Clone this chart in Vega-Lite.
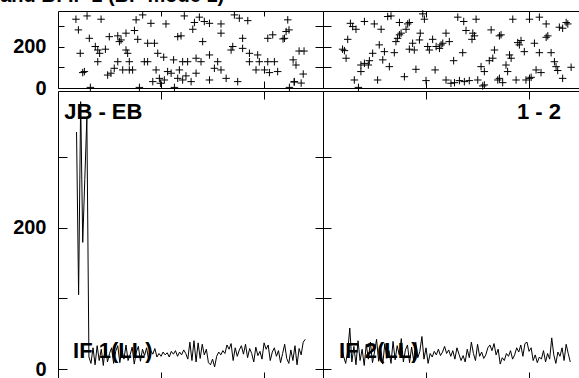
{
  "$schema": "https://vega.github.io/schema/vega-lite/v6.json",
  "background": "white",
  "padding": {"left": 0, "top": -15, "right": 0, "bottom": 0},
  "title": {"text": "and B: IF 1 (BP mode 1)", "anchor": "start", "dx": -12, "offset": -14, "baseline": "alphabetic", "fontSize": 20, "font": "Liberation Sans", "fontWeight": "bold", "color": "black"},
  "config": {
    "font": "Liberation Sans",
    "view": {"stroke": "black", "strokeWidth": 1},
    "axis": {"domain": false, "grid": false, "tickColor": "black", "tickWidth": 1, "labelColor": "black", "labelFont": "Liberation Sans", "labelFontWeight": "bold", "labelFontSize": 20}
  },
  "datasets": {
    "phase": [
      {"IF": 1, "ch": 8.7, "ph": 335}, {"IF": 1, "ch": 14.1, "ph": 351}, {"IF": 1, "ch": 20.9, "ph": 335}, {"IF": 1, "ch": 9.9, "ph": 283},
      {"IF": 1, "ch": 15.2, "ph": 242}, {"IF": 1, "ch": 10.8, "ph": 169}, {"IF": 1, "ch": 18.1, "ph": 202}, {"IF": 1, "ch": 19.3, "ph": 185},
      {"IF": 1, "ch": 20.2, "ph": 169}, {"IF": 1, "ch": 23.0, "ph": 189}, {"IF": 1, "ch": 19.3, "ph": 128}, {"IF": 1, "ch": 12.0, "ph": 75},
      {"IF": 1, "ch": 12.8, "ph": 80}, {"IF": 1, "ch": 15.7, "ph": 3}, {"IF": 1, "ch": 24.9, "ph": 250}, {"IF": 1, "ch": 29.0, "ph": 254},
      {"IF": 1, "ch": 29.8, "ph": 226}, {"IF": 1, "ch": 33.0, "ph": 267}, {"IF": 1, "ch": 30.6, "ph": 234}, {"IF": 1, "ch": 37.1, "ph": 280},
      {"IF": 1, "ch": 37.9, "ph": 332}, {"IF": 1, "ch": 41.1, "ph": 356}, {"IF": 1, "ch": 38.7, "ph": 237}, {"IF": 1, "ch": 43.5, "ph": 218},
      {"IF": 1, "ch": 46.8, "ph": 218}, {"IF": 1, "ch": 33.0, "ph": 185}, {"IF": 1, "ch": 33.8, "ph": 169}, {"IF": 1, "ch": 29.0, "ph": 128},
      {"IF": 1, "ch": 27.3, "ph": 96}, {"IF": 1, "ch": 25.7, "ph": 72}, {"IF": 1, "ch": 24.1, "ph": 63}, {"IF": 1, "ch": 31.4, "ph": 88},
      {"IF": 1, "ch": 34.6, "ph": 88}, {"IF": 1, "ch": 36.2, "ph": 88}, {"IF": 1, "ch": 34.6, "ph": 128}, {"IF": 1, "ch": 41.9, "ph": 128},
      {"IF": 1, "ch": 43.5, "ph": 128}, {"IF": 1, "ch": 45.1, "ph": 315}, {"IF": 1, "ch": 52.4, "ph": 312}, {"IF": 1, "ch": 61.3, "ph": 351},
      {"IF": 1, "ch": 66.2, "ph": 319}, {"IF": 1, "ch": 68.6, "ph": 345}, {"IF": 1, "ch": 65.4, "ph": 286}, {"IF": 1, "ch": 71.0, "ph": 324},
      {"IF": 1, "ch": 73.5, "ph": 315}, {"IF": 1, "ch": 79.1, "ph": 312}, {"IF": 1, "ch": 58.1, "ph": 250}, {"IF": 1, "ch": 59.7, "ph": 254},
      {"IF": 1, "ch": 70.2, "ph": 226}, {"IF": 1, "ch": 79.1, "ph": 267}, {"IF": 1, "ch": 85.6, "ph": 356}, {"IF": 1, "ch": 88.0, "ph": 340},
      {"IF": 1, "ch": 92.1, "ph": 328}, {"IF": 1, "ch": 89.6, "ph": 242}, {"IF": 1, "ch": 84.8, "ph": 202}, {"IF": 1, "ch": 84.0, "ph": 185},
      {"IF": 1, "ch": 89.6, "ph": 193}, {"IF": 1, "ch": 92.9, "ph": 169}, {"IF": 1, "ch": 96.9, "ph": 161}, {"IF": 1, "ch": 92.9, "ph": 128},
      {"IF": 1, "ch": 97.7, "ph": 128}, {"IF": 1, "ch": 101.8, "ph": 128}, {"IF": 1, "ch": 105.0, "ph": 128}, {"IF": 1, "ch": 100.2, "ph": 88},
      {"IF": 1, "ch": 102.6, "ph": 75}, {"IF": 1, "ch": 106.6, "ph": 80}, {"IF": 1, "ch": 96.1, "ph": 88}, {"IF": 1, "ch": 101.8, "ph": 242},
      {"IF": 1, "ch": 104.2, "ph": 259}, {"IF": 1, "ch": 109.9, "ph": 242}, {"IF": 1, "ch": 110.7, "ph": 275}, {"IF": 1, "ch": 111.5, "ph": 332},
      {"IF": 1, "ch": 73.5, "ph": 161}, {"IF": 1, "ch": 77.5, "ph": 128}, {"IF": 1, "ch": 69.4, "ph": 128}, {"IF": 1, "ch": 67.0, "ph": 145},
      {"IF": 1, "ch": 62.9, "ph": 128}, {"IF": 1, "ch": 60.5, "ph": 128}, {"IF": 1, "ch": 56.1, "ph": 137}, {"IF": 1, "ch": 48.4, "ph": 169},
      {"IF": 1, "ch": 51.3, "ph": 150}, {"IF": 1, "ch": 47.6, "ph": 88}, {"IF": 1, "ch": 49.2, "ph": 47}, {"IF": 1, "ch": 51.6, "ph": 39},
      {"IF": 1, "ch": 49.7, "ph": 23}, {"IF": 1, "ch": 53.2, "ph": 80}, {"IF": 1, "ch": 54.9, "ph": 72}, {"IF": 1, "ch": 58.9, "ph": 88},
      {"IF": 1, "ch": 58.1, "ph": 47}, {"IF": 1, "ch": 60.5, "ph": 39}, {"IF": 1, "ch": 62.1, "ph": 59}, {"IF": 1, "ch": 64.6, "ph": 31},
      {"IF": 1, "ch": 67.0, "ph": 72}, {"IF": 1, "ch": 73.5, "ph": 39}, {"IF": 1, "ch": 75.9, "ph": 96}, {"IF": 1, "ch": 79.1, "ph": 88},
      {"IF": 1, "ch": 81.6, "ph": 47}, {"IF": 1, "ch": 87.2, "ph": 31}, {"IF": 1, "ch": 46.0, "ph": 31}, {"IF": 1, "ch": 39.5, "ph": 3},
      {"IF": 1, "ch": 56.5, "ph": 3}, {"IF": 1, "ch": 112.3, "ph": 3}, {"IF": 1, "ch": 114.7, "ph": 31}, {"IF": 1, "ch": 112.1, "ph": 283},
      {"IF": 1, "ch": 109.2, "ph": 239}, {"IF": 1, "ch": 117.0, "ph": 180}, {"IF": 1, "ch": 119.4, "ph": 180}, {"IF": 1, "ch": 114.1, "ph": 137},
      {"IF": 1, "ch": 115.5, "ph": 112}, {"IF": 1, "ch": 119.0, "ph": 68}, {"IF": 1, "ch": 114.6, "ph": 29}, {"IF": 1, "ch": 118.0, "ph": 24},
      {"IF": 2, "ch": 13.3, "ph": 315}, {"IF": 2, "ch": 14.4, "ph": 299}, {"IF": 2, "ch": 16.0, "ph": 286}, {"IF": 2, "ch": 20.1, "ph": 324},
      {"IF": 2, "ch": 24.9, "ph": 312}, {"IF": 2, "ch": 28.2, "ph": 286}, {"IF": 2, "ch": 31.4, "ph": 348}, {"IF": 2, "ch": 33.0, "ph": 351},
      {"IF": 2, "ch": 37.1, "ph": 319}, {"IF": 2, "ch": 41.1, "ph": 312}, {"IF": 2, "ch": 40.3, "ph": 286}, {"IF": 2, "ch": 41.9, "ph": 319},
      {"IF": 2, "ch": 48.4, "ph": 361}, {"IF": 2, "ch": 49.2, "ph": 335}, {"IF": 2, "ch": 65.4, "ph": 345}, {"IF": 2, "ch": 68.3, "ph": 324},
      {"IF": 2, "ch": 74.3, "ph": 335}, {"IF": 2, "ch": 69.4, "ph": 280}, {"IF": 2, "ch": 72.7, "ph": 267}, {"IF": 2, "ch": 73.5, "ph": 254},
      {"IF": 2, "ch": 81.6, "ph": 283}, {"IF": 2, "ch": 86.4, "ph": 259}, {"IF": 2, "ch": 92.1, "ph": 335}, {"IF": 2, "ch": 100.2, "ph": 335},
      {"IF": 2, "ch": 105.0, "ph": 345}, {"IF": 2, "ch": 108.3, "ph": 312}, {"IF": 2, "ch": 114.7, "ph": 296}, {"IF": 2, "ch": 116.3, "ph": 291},
      {"IF": 2, "ch": 118.0, "ph": 319}, {"IF": 2, "ch": 118.8, "ph": 312}, {"IF": 2, "ch": 12.0, "ph": 237}, {"IF": 2, "ch": 9.5, "ph": 189},
      {"IF": 2, "ch": 10.4, "ph": 182}, {"IF": 2, "ch": 11.2, "ph": 145}, {"IF": 2, "ch": 18.4, "ph": 112}, {"IF": 2, "ch": 20.1, "ph": 120},
      {"IF": 2, "ch": 22.5, "ph": 133}, {"IF": 2, "ch": 22.0, "ph": 112}, {"IF": 2, "ch": 18.4, "ph": 80}, {"IF": 2, "ch": 15.2, "ph": 39},
      {"IF": 2, "ch": 17.2, "ph": 3}, {"IF": 2, "ch": 24.1, "ph": 169}, {"IF": 2, "ch": 27.3, "ph": 210}, {"IF": 2, "ch": 29.8, "ph": 177},
      {"IF": 2, "ch": 29.0, "ph": 137}, {"IF": 2, "ch": 32.2, "ph": 104}, {"IF": 2, "ch": 34.6, "ph": 172}, {"IF": 2, "ch": 35.4, "ph": 226},
      {"IF": 2, "ch": 36.2, "ph": 242}, {"IF": 2, "ch": 37.1, "ph": 259}, {"IF": 2, "ch": 37.9, "ph": 267}, {"IF": 2, "ch": 41.9, "ph": 189},
      {"IF": 2, "ch": 43.5, "ph": 218}, {"IF": 2, "ch": 44.3, "ph": 185}, {"IF": 2, "ch": 46.8, "ph": 234}, {"IF": 2, "ch": 47.2, "ph": 267},
      {"IF": 2, "ch": 50.8, "ph": 202}, {"IF": 2, "ch": 51.6, "ph": 185}, {"IF": 2, "ch": 53.2, "ph": 237}, {"IF": 2, "ch": 54.9, "ph": 202},
      {"IF": 2, "ch": 56.5, "ph": 193}, {"IF": 2, "ch": 57.3, "ph": 210}, {"IF": 2, "ch": 59.7, "ph": 267}, {"IF": 2, "ch": 61.3, "ph": 226},
      {"IF": 2, "ch": 58.1, "ph": 218}, {"IF": 2, "ch": 26.5, "ph": 39}, {"IF": 2, "ch": 39.5, "ph": 55}, {"IF": 2, "ch": 45.1, "ph": 91},
      {"IF": 2, "ch": 54.4, "ph": 88}, {"IF": 2, "ch": 50.0, "ph": 36}, {"IF": 2, "ch": 63.4, "ph": 133}, {"IF": 2, "ch": 67.8, "ph": 172},
      {"IF": 2, "ch": 59.7, "ph": 39}, {"IF": 2, "ch": 62.1, "ph": 23}, {"IF": 2, "ch": 63.8, "ph": 26}, {"IF": 2, "ch": 66.2, "ph": 36},
      {"IF": 2, "ch": 68.6, "ph": 31}, {"IF": 2, "ch": 71.0, "ph": 36}, {"IF": 2, "ch": 75.1, "ph": 39}, {"IF": 2, "ch": 77.5, "ph": 10},
      {"IF": 2, "ch": 78.3, "ph": 15}, {"IF": 2, "ch": 84.8, "ph": 39}, {"IF": 2, "ch": 85.6, "ph": 47}, {"IF": 2, "ch": 87.2, "ph": 26},
      {"IF": 2, "ch": 76.7, "ph": 104}, {"IF": 2, "ch": 78.3, "ph": 80}, {"IF": 2, "ch": 80.7, "ph": 133}, {"IF": 2, "ch": 82.4, "ph": 145},
      {"IF": 2, "ch": 83.2, "ph": 185}, {"IF": 2, "ch": 88.8, "ph": 112}, {"IF": 2, "ch": 89.6, "ph": 80}, {"IF": 2, "ch": 90.5, "ph": 161},
      {"IF": 2, "ch": 91.3, "ph": 145}, {"IF": 2, "ch": 93.7, "ph": 39}, {"IF": 2, "ch": 98.5, "ph": 39}, {"IF": 2, "ch": 100.2, "ph": 47},
      {"IF": 2, "ch": 101.0, "ph": 52}, {"IF": 2, "ch": 103.4, "ph": 88}, {"IF": 2, "ch": 105.8, "ph": 75}, {"IF": 2, "ch": 95.3, "ph": 210},
      {"IF": 2, "ch": 94.5, "ph": 221}, {"IF": 2, "ch": 96.1, "ph": 231}, {"IF": 2, "ch": 97.7, "ph": 177}, {"IF": 2, "ch": 102.6, "ph": 218},
      {"IF": 2, "ch": 105.0, "ph": 172}, {"IF": 2, "ch": 108.3, "ph": 247}, {"IF": 2, "ch": 109.1, "ph": 254}, {"IF": 2, "ch": 110.7, "ph": 172},
      {"IF": 2, "ch": 112.3, "ph": 128}, {"IF": 2, "ch": 113.1, "ph": 104}, {"IF": 2, "ch": 113.9, "ph": 85}, {"IF": 2, "ch": 116.3, "ph": 47},
      {"IF": 2, "ch": 120.4, "ph": 101}, {"IF": 2, "ch": 85.6, "ph": 254}, {"IF": 2, "ch": 72.3, "ph": 237}
    ],
    "amp": [
      {"IF": 1, "ch": 9, "amp": 335}, {"IF": 1, "ch": 10, "amp": 105}, {"IF": 1, "ch": 11, "amp": 378}, {"IF": 1, "ch": 12, "amp": 179},
      {"IF": 1, "ch": 13, "amp": 268}, {"IF": 1, "ch": 14, "amp": 355}, {"IF": 1, "ch": 15, "amp": 17}, {"IF": 1, "ch": 16, "amp": 8},
      {"IF": 1, "ch": 17, "amp": 30}, {"IF": 1, "ch": 18, "amp": 6}, {"IF": 1, "ch": 19, "amp": 33}, {"IF": 1, "ch": 20, "amp": 12},
      {"IF": 1, "ch": 21, "amp": 28}, {"IF": 1, "ch": 22, "amp": 5}, {"IF": 1, "ch": 23, "amp": 35}, {"IF": 1, "ch": 24, "amp": 10},
      {"IF": 1, "ch": 25, "amp": 22}, {"IF": 1, "ch": 26, "amp": 30}, {"IF": 1, "ch": 27, "amp": 8}, {"IF": 1, "ch": 28, "amp": 25},
      {"IF": 1, "ch": 29, "amp": 33}, {"IF": 1, "ch": 30, "amp": 9}, {"IF": 1, "ch": 31, "amp": 27}, {"IF": 1, "ch": 32, "amp": 14},
      {"IF": 1, "ch": 33, "amp": 34}, {"IF": 1, "ch": 34, "amp": 12}, {"IF": 1, "ch": 35, "amp": 20}, {"IF": 1, "ch": 36, "amp": 31},
      {"IF": 1, "ch": 37, "amp": 7}, {"IF": 1, "ch": 38, "amp": 24}, {"IF": 1, "ch": 39, "amp": 32}, {"IF": 1, "ch": 40, "amp": 11},
      {"IF": 1, "ch": 41, "amp": 28}, {"IF": 1, "ch": 42, "amp": 19}, {"IF": 1, "ch": 43, "amp": 30}, {"IF": 1, "ch": 44, "amp": 13},
      {"IF": 1, "ch": 45, "amp": 26}, {"IF": 1, "ch": 46, "amp": 21}, {"IF": 1, "ch": 47, "amp": 29}, {"IF": 1, "ch": 48, "amp": 17},
      {"IF": 1, "ch": 49, "amp": 22}, {"IF": 1, "ch": 50, "amp": 18}, {"IF": 1, "ch": 51, "amp": 24}, {"IF": 1, "ch": 52, "amp": 20},
      {"IF": 1, "ch": 53, "amp": 23}, {"IF": 1, "ch": 54, "amp": 17}, {"IF": 1, "ch": 55, "amp": 25}, {"IF": 1, "ch": 56, "amp": 21},
      {"IF": 1, "ch": 57, "amp": 26}, {"IF": 1, "ch": 58, "amp": 18}, {"IF": 1, "ch": 59, "amp": 24}, {"IF": 1, "ch": 60, "amp": 20},
      {"IF": 1, "ch": 61, "amp": 27}, {"IF": 1, "ch": 62, "amp": 22}, {"IF": 1, "ch": 63, "amp": 14}, {"IF": 1, "ch": 64, "amp": 38},
      {"IF": 1, "ch": 65, "amp": 12}, {"IF": 1, "ch": 66, "amp": 40}, {"IF": 1, "ch": 67, "amp": 10}, {"IF": 1, "ch": 68, "amp": 37},
      {"IF": 1, "ch": 69, "amp": 15}, {"IF": 1, "ch": 70, "amp": 35}, {"IF": 1, "ch": 71, "amp": 20}, {"IF": 1, "ch": 72, "amp": 28},
      {"IF": 1, "ch": 73, "amp": 9}, {"IF": 1, "ch": 74, "amp": 6}, {"IF": 1, "ch": 75, "amp": 14}, {"IF": 1, "ch": 76, "amp": 3},
      {"IF": 1, "ch": 77, "amp": 18}, {"IF": 1, "ch": 78, "amp": 24}, {"IF": 1, "ch": 79, "amp": 20}, {"IF": 1, "ch": 80, "amp": 26},
      {"IF": 1, "ch": 81, "amp": 22}, {"IF": 1, "ch": 82, "amp": 34}, {"IF": 1, "ch": 83, "amp": 28}, {"IF": 1, "ch": 84, "amp": 36},
      {"IF": 1, "ch": 85, "amp": 12}, {"IF": 1, "ch": 86, "amp": 30}, {"IF": 1, "ch": 87, "amp": 18}, {"IF": 1, "ch": 88, "amp": 27},
      {"IF": 1, "ch": 89, "amp": 33}, {"IF": 1, "ch": 90, "amp": 21}, {"IF": 1, "ch": 91, "amp": 35}, {"IF": 1, "ch": 92, "amp": 16},
      {"IF": 1, "ch": 93, "amp": 29}, {"IF": 1, "ch": 94, "amp": 22}, {"IF": 1, "ch": 95, "amp": 10}, {"IF": 1, "ch": 96, "amp": 31},
      {"IF": 1, "ch": 97, "amp": 19}, {"IF": 1, "ch": 98, "amp": 25}, {"IF": 1, "ch": 99, "amp": 14}, {"IF": 1, "ch": 100, "amp": 37},
      {"IF": 1, "ch": 101, "amp": 28}, {"IF": 1, "ch": 102, "amp": 34}, {"IF": 1, "ch": 103, "amp": 12}, {"IF": 1, "ch": 104, "amp": 24},
      {"IF": 1, "ch": 105, "amp": 30}, {"IF": 1, "ch": 106, "amp": 18}, {"IF": 1, "ch": 107, "amp": 26}, {"IF": 1, "ch": 108, "amp": 9},
      {"IF": 1, "ch": 109, "amp": 22}, {"IF": 1, "ch": 110, "amp": 35}, {"IF": 1, "ch": 111, "amp": 15}, {"IF": 1, "ch": 112, "amp": 8},
      {"IF": 1, "ch": 113, "amp": 27}, {"IF": 1, "ch": 114, "amp": 12}, {"IF": 1, "ch": 115, "amp": 33}, {"IF": 1, "ch": 116, "amp": 6},
      {"IF": 1, "ch": 117, "amp": 29}, {"IF": 1, "ch": 118, "amp": 20}, {"IF": 1, "ch": 119, "amp": 38}, {"IF": 1, "ch": 120, "amp": 42},
      {"IF": 2, "ch": 9, "amp": 30}, {"IF": 2, "ch": 10, "amp": 18}, {"IF": 2, "ch": 11, "amp": 8}, {"IF": 2, "ch": 12, "amp": 25},
      {"IF": 2, "ch": 13, "amp": 58}, {"IF": 2, "ch": 14, "amp": 10}, {"IF": 2, "ch": 15, "amp": 32}, {"IF": 2, "ch": 16, "amp": 6},
      {"IF": 2, "ch": 17, "amp": 40}, {"IF": 2, "ch": 18, "amp": 12}, {"IF": 2, "ch": 19, "amp": 28}, {"IF": 2, "ch": 20, "amp": 5},
      {"IF": 2, "ch": 21, "amp": 35}, {"IF": 2, "ch": 22, "amp": 14}, {"IF": 2, "ch": 23, "amp": 38}, {"IF": 2, "ch": 24, "amp": 9},
      {"IF": 2, "ch": 25, "amp": 24}, {"IF": 2, "ch": 26, "amp": 42}, {"IF": 2, "ch": 27, "amp": 11}, {"IF": 2, "ch": 28, "amp": 30},
      {"IF": 2, "ch": 29, "amp": 7}, {"IF": 2, "ch": 30, "amp": 36}, {"IF": 2, "ch": 31, "amp": 15}, {"IF": 2, "ch": 32, "amp": 26},
      {"IF": 2, "ch": 33, "amp": 8}, {"IF": 2, "ch": 34, "amp": 39}, {"IF": 2, "ch": 35, "amp": 13}, {"IF": 2, "ch": 36, "amp": 33},
      {"IF": 2, "ch": 37, "amp": 20}, {"IF": 2, "ch": 38, "amp": 43}, {"IF": 2, "ch": 39, "amp": 10}, {"IF": 2, "ch": 40, "amp": 27},
      {"IF": 2, "ch": 41, "amp": 34}, {"IF": 2, "ch": 42, "amp": 9}, {"IF": 2, "ch": 43, "amp": 31}, {"IF": 2, "ch": 44, "amp": 12},
      {"IF": 2, "ch": 45, "amp": 38}, {"IF": 2, "ch": 46, "amp": 16}, {"IF": 2, "ch": 47, "amp": 25}, {"IF": 2, "ch": 48, "amp": 46},
      {"IF": 2, "ch": 49, "amp": 14}, {"IF": 2, "ch": 50, "amp": 30}, {"IF": 2, "ch": 51, "amp": 8}, {"IF": 2, "ch": 52, "amp": 22},
      {"IF": 2, "ch": 53, "amp": 17}, {"IF": 2, "ch": 54, "amp": 25}, {"IF": 2, "ch": 55, "amp": 20}, {"IF": 2, "ch": 56, "amp": 28},
      {"IF": 2, "ch": 57, "amp": 19}, {"IF": 2, "ch": 58, "amp": 24}, {"IF": 2, "ch": 59, "amp": 32}, {"IF": 2, "ch": 60, "amp": 22},
      {"IF": 2, "ch": 61, "amp": 27}, {"IF": 2, "ch": 62, "amp": 18}, {"IF": 2, "ch": 63, "amp": 26}, {"IF": 2, "ch": 64, "amp": 14},
      {"IF": 2, "ch": 65, "amp": 30}, {"IF": 2, "ch": 66, "amp": 21}, {"IF": 2, "ch": 67, "amp": 12}, {"IF": 2, "ch": 68, "amp": 19},
      {"IF": 2, "ch": 69, "amp": 10}, {"IF": 2, "ch": 70, "amp": 28}, {"IF": 2, "ch": 71, "amp": 16}, {"IF": 2, "ch": 72, "amp": 38},
      {"IF": 2, "ch": 73, "amp": 22}, {"IF": 2, "ch": 74, "amp": 12}, {"IF": 2, "ch": 75, "amp": 35}, {"IF": 2, "ch": 76, "amp": 18},
      {"IF": 2, "ch": 77, "amp": 24}, {"IF": 2, "ch": 78, "amp": 15}, {"IF": 2, "ch": 79, "amp": 20}, {"IF": 2, "ch": 80, "amp": 30},
      {"IF": 2, "ch": 81, "amp": 34}, {"IF": 2, "ch": 82, "amp": 26}, {"IF": 2, "ch": 83, "amp": 36}, {"IF": 2, "ch": 84, "amp": 20},
      {"IF": 2, "ch": 85, "amp": 28}, {"IF": 2, "ch": 86, "amp": 7}, {"IF": 2, "ch": 87, "amp": 16}, {"IF": 2, "ch": 88, "amp": 12},
      {"IF": 2, "ch": 89, "amp": 22}, {"IF": 2, "ch": 90, "amp": 18}, {"IF": 2, "ch": 91, "amp": 26}, {"IF": 2, "ch": 92, "amp": 14},
      {"IF": 2, "ch": 93, "amp": 20}, {"IF": 2, "ch": 94, "amp": 30}, {"IF": 2, "ch": 95, "amp": 24}, {"IF": 2, "ch": 96, "amp": 34},
      {"IF": 2, "ch": 97, "amp": 18}, {"IF": 2, "ch": 98, "amp": 36}, {"IF": 2, "ch": 99, "amp": 38}, {"IF": 2, "ch": 100, "amp": 25},
      {"IF": 2, "ch": 101, "amp": 30}, {"IF": 2, "ch": 102, "amp": 12}, {"IF": 2, "ch": 103, "amp": 20}, {"IF": 2, "ch": 104, "amp": 9},
      {"IF": 2, "ch": 105, "amp": 17}, {"IF": 2, "ch": 106, "amp": 14}, {"IF": 2, "ch": 107, "amp": 26}, {"IF": 2, "ch": 108, "amp": 10},
      {"IF": 2, "ch": 109, "amp": 22}, {"IF": 2, "ch": 110, "amp": 14}, {"IF": 2, "ch": 111, "amp": 44}, {"IF": 2, "ch": 112, "amp": 20},
      {"IF": 2, "ch": 113, "amp": 8}, {"IF": 2, "ch": 114, "amp": 24}, {"IF": 2, "ch": 115, "amp": 18}, {"IF": 2, "ch": 116, "amp": 30},
      {"IF": 2, "ch": 117, "amp": 12}, {"IF": 2, "ch": 118, "amp": 35}, {"IF": 2, "ch": 119, "amp": 22}, {"IF": 2, "ch": 120, "amp": 10}
    ],
    "one": [{"k": 1}]
  },
  "columns": 2,
  "spacing": {"row": 3, "column": 0},
  "bounds": "flush",
  "align": "each",
  "concat": [
    {
      "width": 265, "height": 77,
      "resolve": {"axis": {"x": "independent", "y": "independent"}},
      "layer": [
        {
          "data": {"name": "phase"},
          "transform": [{"filter": "datum.IF == 1"}],
          "mark": {"type": "point", "shape": "M-1,0L1,0M0,-1L0,1", "size": 56, "filled": false, "stroke": "black", "strokeWidth": 1, "opacity": 1},
          "encoding": {
            "x": {"field": "ch", "type": "quantitative", "scale": {"domain": [0, 128.6], "nice": false, "zero": false}, "axis": {"orient": "bottom", "title": null, "values": [50, 100], "labels": false, "tickSize": -7}},
            "y": {"field": "ph", "type": "quantitative", "scale": {"domain": [0, 375], "nice": false, "zero": false}, "axis": {"orient": "left", "title": null, "values": [0, 100, 200, 300], "tickSize": -6, "labelPadding": 18, "labelExpr": "datum.value == 0 || datum.value == 200 ? datum.label : ''"}}
          }
        },
        {
          "data": {"name": "one"},
          "mark": {"type": "text", "text": ""},
          "encoding": {
            "x": {"datum": 0, "type": "quantitative", "scale": {"domain": [0, 128.6], "nice": false, "zero": false}, "axis": {"orient": "top", "title": null, "values": [50, 100], "labels": false, "tickSize": -5}},
            "y": {"datum": 0, "type": "quantitative", "scale": {"domain": [0, 375], "nice": false, "zero": false}, "axis": {"orient": "right", "title": null, "values": [0, 100, 200, 300], "labels": false, "tickSize": -8}}
          }
        }
      ]
    },
    {
      "width": 265, "height": 77,
      "resolve": {"axis": {"x": "independent", "y": "independent"}},
      "layer": [
        {
          "data": {"name": "phase"},
          "transform": [{"filter": "datum.IF == 2"}],
          "mark": {"type": "point", "shape": "M-1,0L1,0M0,-1L0,1", "size": 56, "filled": false, "stroke": "black", "strokeWidth": 1, "opacity": 1},
          "encoding": {
            "x": {"field": "ch", "type": "quantitative", "scale": {"domain": [0, 128.6], "nice": false, "zero": false}, "axis": {"orient": "bottom", "title": null, "values": [50, 100], "labels": false, "tickSize": -7}},
            "y": {"field": "ph", "type": "quantitative", "scale": {"domain": [0, 375], "nice": false, "zero": false}, "axis": {"orient": "left", "title": null, "values": [0, 100, 200, 300], "labels": false, "tickSize": -8}}
          }
        },
        {
          "data": {"name": "one"},
          "mark": {"type": "text", "text": ""},
          "encoding": {
            "x": {"datum": 0, "type": "quantitative", "scale": {"domain": [0, 128.6], "nice": false, "zero": false}, "axis": {"orient": "top", "title": null, "values": [50, 100], "labels": false, "tickSize": -6}},
            "y": {"datum": 0, "type": "quantitative", "scale": {"domain": [0, 375], "nice": false, "zero": false}, "axis": null}
          }
        }
      ]
    },
    {
      "width": 265, "height": 289,
      "resolve": {"axis": {"x": "independent", "y": "independent"}},
      "layer": [
        {
          "data": {"name": "amp"},
          "transform": [{"filter": "datum.IF == 1"}],
          "mark": {"type": "line", "stroke": "black", "strokeWidth": 1, "clip": true},
          "encoding": {
            "x": {"field": "ch", "type": "quantitative", "scale": {"domain": [0, 128.6], "nice": false, "zero": false}, "axis": {"orient": "bottom", "title": null, "values": [50, 100], "labels": false, "tickSize": -8}},
            "y": {"field": "amp", "type": "quantitative", "scale": {"domain": [-15.5, 393], "nice": false, "zero": false}, "axis": {"orient": "left", "title": null, "values": [0, 100, 200, 300], "tickSize": -9, "labelPadding": 21, "labelExpr": "datum.value == 0 || datum.value == 200 ? datum.label : ''"}}
          }
        },
        {
          "data": {"values": [{"label": "JB - EB"}]},
          "mark": {"type": "text", "align": "left", "baseline": "alphabetic", "fontSize": 22, "fontWeight": "bold", "font": "Liberation Sans", "color": "black"},
          "encoding": {
            "text": {"field": "label"},
            "x": {"datum": 3, "type": "quantitative", "scale": {"domain": [0, 128.6], "nice": false, "zero": false}, "axis": {"orient": "top", "title": null, "values": [50, 100], "labels": false, "tickSize": -8}},
            "y": {"datum": 354, "type": "quantitative", "scale": {"domain": [-15.5, 393], "nice": false, "zero": false}, "axis": {"orient": "right", "title": null, "values": [0, 100, 200, 300], "labels": false, "tickSize": -8}}
          }
        },
        {
          "data": {"values": [{"label": "IF 1(LL)"}]},
          "mark": {"type": "text", "align": "left", "baseline": "alphabetic", "fontSize": 22, "fontWeight": "bold", "font": "Liberation Sans", "color": "black"},
          "encoding": {
            "text": {"field": "label"},
            "x": {"datum": 7.3, "type": "quantitative", "scale": {"domain": [0, 128.6], "nice": false, "zero": false}, "axis": null},
            "y": {"datum": 15.6, "type": "quantitative", "scale": {"domain": [-15.5, 393], "nice": false, "zero": false}, "axis": null}
          }
        }
      ]
    },
    {
      "width": 265, "height": 289,
      "resolve": {"axis": {"x": "independent", "y": "independent"}},
      "layer": [
        {
          "data": {"name": "amp"},
          "transform": [{"filter": "datum.IF == 2"}],
          "mark": {"type": "line", "stroke": "black", "strokeWidth": 1, "clip": true},
          "encoding": {
            "x": {"field": "ch", "type": "quantitative", "scale": {"domain": [0, 128.6], "nice": false, "zero": false}, "axis": {"orient": "bottom", "title": null, "values": [50, 100], "labels": false, "tickSize": -8}},
            "y": {"field": "amp", "type": "quantitative", "scale": {"domain": [-15.5, 393], "nice": false, "zero": false}, "axis": {"orient": "left", "title": null, "values": [0, 100, 200, 300], "labels": false, "tickSize": -8}}
          }
        },
        {
          "data": {"values": [{"label": "1 - 2"}]},
          "mark": {"type": "text", "align": "right", "baseline": "alphabetic", "fontSize": 22, "fontWeight": "bold", "font": "Liberation Sans", "color": "black"},
          "encoding": {
            "text": {"field": "label"},
            "x": {"datum": 115.5, "type": "quantitative", "scale": {"domain": [0, 128.6], "nice": false, "zero": false}, "axis": {"orient": "top", "title": null, "values": [50, 100], "labels": false, "tickSize": -8}},
            "y": {"datum": 354, "type": "quantitative", "scale": {"domain": [-15.5, 393], "nice": false, "zero": false}, "axis": null}
          }
        },
        {
          "data": {"values": [{"label": "IF 2(LL)"}]},
          "mark": {"type": "text", "align": "left", "baseline": "alphabetic", "fontSize": 22, "fontWeight": "bold", "font": "Liberation Sans", "color": "black"},
          "encoding": {
            "text": {"field": "label"},
            "x": {"datum": 7.8, "type": "quantitative", "scale": {"domain": [0, 128.6], "nice": false, "zero": false}, "axis": null},
            "y": {"datum": 15.6, "type": "quantitative", "scale": {"domain": [-15.5, 393], "nice": false, "zero": false}, "axis": null}
          }
        }
      ]
    }
  ]
}
